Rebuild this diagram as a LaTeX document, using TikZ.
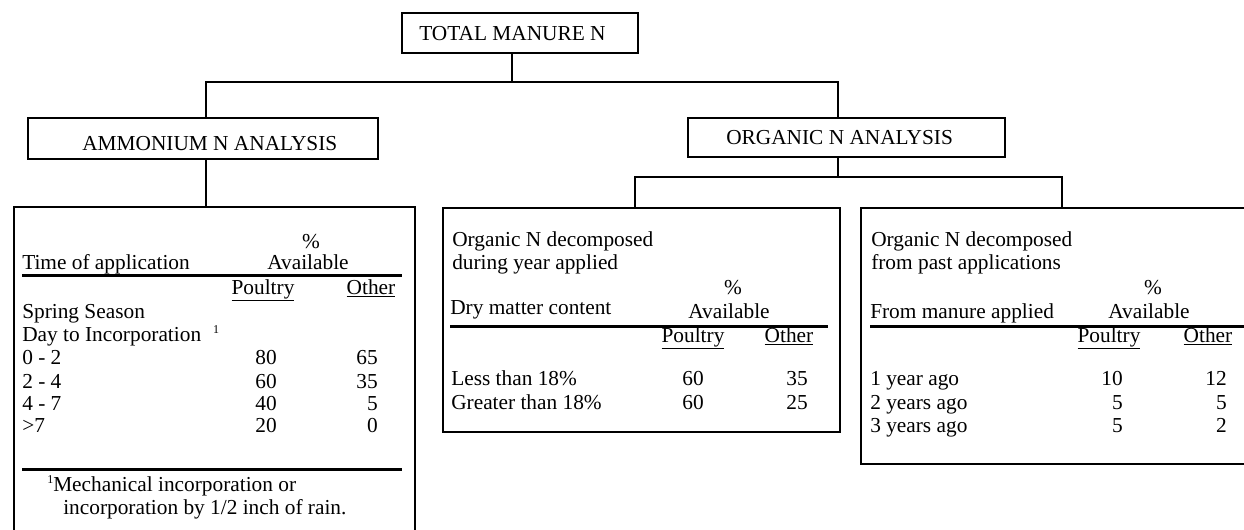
\documentclass[tikz,border=0pt]{standalone}
\usepackage{fontspec}
\setmainfont{Liberation Serif}
\newcommand{\supone}{\raisebox{6pt}{\fontsize{9}{9}\selectfont 1}}
\begin{document}
\begin{tikzpicture}[x=0.75pt,y=-0.75pt,
  box/.style={draw, line width=1.5pt, inner sep=0pt, anchor=north west},
  lbl/.style={inner sep=0pt, anchor=base west, font=\fontsize{16}{17}\selectfont},
  lblc/.style={lbl, anchor=base},
  lblr/.style={lbl, anchor=base east},
  conn/.style={line width=1.5pt},
  hrule/.style={line width=2.25pt}]
\useasboundingbox (0,0) rectangle (1244,529);
\clip (0,0) rectangle (1244,529);
% boxes
\node[box, minimum width=177pt, minimum height=30pt] (total) at (401,12) {};
\node[box, minimum width=262.5pt, minimum height=30.75pt] (amm) at (27,117) {};
\node[box, minimum width=237.75pt, minimum height=29.25pt] (org) at (687,117) {};
\node[box, minimum width=300.75pt, minimum height=255pt] (tabA) at (13,206) {};
\node[box, minimum width=297.75pt, minimum height=168pt] (tabB) at (442,207) {};
\node[box, minimum width=300pt, minimum height=192pt] (tabC) at (860,207) {};
% box titles
\node[lbl] (ttotal) at (419,40) {TOTAL MANURE N};
\node[lbl] (tamm) at (82,150) {AMMONIUM N ANALYSIS};
\node[lbl] (torg) at (726,144) {ORGANIC N ANALYSIS};
% connectors
\coordinate (bM) at (512,82);
\coordinate (bL) at (206,82);
\coordinate (bR) at (838,82);
\coordinate (oM) at (838,177);
\coordinate (oL) at (635,177);
\coordinate (oR) at (1062,177);
\draw[conn] (bM |- total.south) -- (bM);
\draw[conn] (bL |- amm.north) -- (bL) -- (bR) -- (bR |- org.north);
\draw[conn] (bL |- amm.south) -- (bL |- tabA.north);
\draw[conn] (oM |- org.south) -- (oM);
\draw[conn] (oL |- tabB.north) -- (oL) -- (oR) -- (oR |- tabC.north);
% table A
\node[lblc] (aPct) at (311,248) {\%};
\node[lbl] (aHead) at (22,269) {Time of application};
\node[lblc] (aAvail) at (308,269) {Available};
\coordinate (aR1) at (22,275);
\coordinate (aR2) at (402,275);
\draw[hrule] (aR1) -- (aR2);
\node[lblc] (aPoul) at (263,294) {\underline{Poultry}};
\node[lblc] (aOth) at (371,294) {\underline{Other}};
\node[lbl] (aSpring) at (22,318) {Spring Season};
\node[lbl] (aDay) at (22,341) {Day to Incorporation\hspace{9pt}\supone};
\node[lbl] (aR1a) at (22,364) {0 - 2};
\node[lblr] (aR1b) at (277,364) {80};
\node[lblr] (aR1c) at (378,364) {65};
\node[lbl] (aR2a) at (22,388) {2 - 4};
\node[lblr] (aR2b) at (277,388) {60};
\node[lblr] (aR2c) at (378,388) {35};
\node[lbl] (aR3a) at (22,410) {4 - 7};
\node[lblr] (aR3b) at (277,410) {40};
\node[lblr] (aR3c) at (378,410) {5};
\node[lbl] (aR4a) at (22,432) {>7};
\node[lblr] (aR4b) at (277,432) {20};
\node[lblr] (aR4c) at (378,432) {0};
\coordinate (aF1) at (22,469);
\coordinate (aF2) at (402,469);
\draw[hrule] (aF1) -- (aF2);
\node[lbl] (aFn1) at (47,491) {\supone Mechanical incorporation or};
\node[lbl] (aFn2) at (63,514) {incorporation by 1/2 inch of rain.};
% table B
\node[lbl] (bT1) at (452,246) {Organic N decomposed};
\node[lbl] (bT2) at (452,269) {during year applied};
\node[lblc] (bPct) at (733,294) {\%};
\node[lbl] (bHead) at (450,314) {Dry matter content};
\node[lblc] (bAvail) at (729,318) {Available};
\coordinate (bR1) at (450,326);
\coordinate (bR2) at (828,326);
\draw[hrule] (bR1) -- (bR2);
\node[lblc] (bPoul) at (693,342) {\underline{Poultry}};
\node[lblc] (bOth) at (789,342) {\underline{Other}};
\node[lbl] (bR1a) at (451,385) {Less than 18\%};
\node[lblr] (bR1b) at (704,385) {60};
\node[lblr] (bR1c) at (808,385) {35};
\node[lbl] (bR2a) at (451,409) {Greater than 18\%};
\node[lblr] (bR2b) at (704,409) {60};
\node[lblr] (bR2c) at (808,409) {25};
% table C
\node[lbl] (cT1) at (871,246) {Organic N decomposed};
\node[lbl] (cT2) at (871,269) {from past applications};
\node[lblc] (cPct) at (1153,294) {\%};
\node[lbl] (cHead) at (870,318) {From manure applied};
\node[lblc] (cAvail) at (1149,318) {Available};
\coordinate (cR1) at (870,326);
\coordinate (cR2) at (1250,326);
\draw[hrule] (cR1) -- (cR2);
\node[lblc] (cPoul) at (1109,342) {\underline{Poultry}};
\node[lblc] (cOth) at (1208,342) {\underline{Other}};
\node[lbl] (cR1a) at (870,385) {1 year ago};
\node[lblr] (cR1b) at (1123,385) {10};
\node[lblr] (cR1c) at (1227,385) {12};
\node[lbl] (cR2a) at (870,409) {2 years ago};
\node[lblr] (cR2b) at (1123,409) {5};
\node[lblr] (cR2c) at (1227,409) {5};
\node[lbl] (cR3a) at (870,432) {3 years ago};
\node[lblr] (cR3b) at (1123,432) {5};
\node[lblr] (cR3c) at (1227,432) {2};
\end{tikzpicture}
\end{document}
